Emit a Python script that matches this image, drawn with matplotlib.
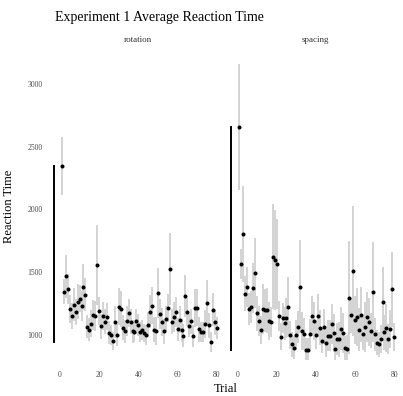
import matplotlib
matplotlib.use("Agg")
import matplotlib.pyplot as plt

plt.rcParams['font.family'] = ['Liberation Serif', 'DejaVu Serif']

trials = list(range(1, 81))

rotation_rt = [
    2345, 1343, 1468, 1369, 1207, 1151, 1241, 1183, 1263, 1289,
    1231, 1382, 1321, 1066, 1042, 1090, 1157, 1150, 1558, 1191,
    1069, 1153, 1106, 1146, 1018, 1003, 952, 1104, 998, 1226,
    1207, 1056, 1029, 1111, 1175, 1106, 1029, 1026, 1109, 1080,
    1026, 1042, 1016, 1000, 1080, 1186, 1234, 1042, 1032, 1337,
    1170, 1101, 1029, 1128, 1215, 1526, 1106, 1141, 1186, 1045,
    1122, 1037, 995, 1311, 1183, 1074, 1109, 992, 1215, 1218,
    1045, 1021, 1021, 1088, 1255, 1077, 942, 1202, 1101, 1056,
]
rotation_err = [
    230, 100, 170, 120, 110, 100, 130, 100, 140, 110,
    120, 180, 130, 90, 90, 110, 120, 120, 320, 110,
    100, 110, 100, 110, 90, 80, 70, 130, 90, 150,
    140, 100, 90, 120, 110, 100, 90, 80, 100, 90,
    80, 80, 70, 80, 100, 130, 150, 100, 110, 200,
    120, 110, 100, 100, 110, 290, 100, 120, 120, 90,
    110, 90, 90, 170, 110, 90, 100, 90, 150, 150,
    100, 80, 80, 110, 180, 100, 80, 130, 100, 90,
]

spacing_rt = [
    2657, 1563, 1805, 1327, 1385, 1207, 1223, 1375, 1496, 1173,
    1109, 1040, 1205, 1197, 1197, 1112, 1104, 1624, 1598, 1568,
    1149, 986, 1138, 1093, 1135, 1221, 1000, 926, 899, 998,
    1064, 1385, 1029, 1008, 883, 883, 1010, 1154, 1112, 998,
    1154, 1056, 952, 1066, 934, 995, 995, 1090, 1016, 888,
    966, 966, 1050, 1013, 894, 891, 1297, 1157, 1510, 1117,
    1143, 1042, 1162, 1010, 1061, 1146, 1101, 1032, 1340, 1005,
    936, 926, 968, 1261, 1021, 1053, 970, 1048, 1364, 984,
]
spacing_err = [
    500, 120, 380, 140, 160, 130, 130, 200, 280, 140,
    120, 110, 200, 170, 180, 150, 120, 420, 400, 360,
    120, 110, 120, 130, 160, 240, 110, 100, 90, 120,
    130, 370, 150, 130, 90, 90, 120, 160, 150, 110,
    170, 140, 100, 140, 110, 120, 120, 160, 150, 100,
    130, 140, 170, 160, 100, 110, 450, 140, 520, 190,
    230, 170, 220, 130, 200, 200, 190, 140, 400, 130,
    100, 100, 110, 280, 140, 190, 120, 150, 300, 110,
]

panels = ["rotation", "spacing"]
x_ticks = [0, 20, 40, 60, 80]
y_ticks = [1000, 1500, 2000, 2500, 3000]

fig = plt.figure(figsize=(4.03, 3.96), dpi=100)
ax1 = fig.add_axes([53.5 / 403, 0.0909, 168 / 403, 0.776])
ax2 = fig.add_axes([231 / 403, 0.0909, 168 / 403, 0.776], sharey=ax1)

for ax, name, rt, err in [(ax1, panels[0], rotation_rt, rotation_err),
                          (ax2, panels[1], spacing_rt, spacing_err)]:
    ax.errorbar(trials, rt, yerr=err, fmt='none', ecolor='#d0d0d0',
                elinewidth=1.3, capsize=0, zorder=1)
    ax.plot(trials, rt, 'o', color='black', markersize=2.9,
            markeredgewidth=0, zorder=2)
    ax.set_xlim(-3.3, 82.4)
    ax.set_ylim(800, 3250)
    for side in ['top', 'right', 'bottom']:
        ax.spines[side].set_visible(False)
    ax.spines['left'].set_bounds(min(rt), max(rt))
    ax.spines['left'].set_linewidth(1.4)
    ax.set_xticks(x_ticks)
    ax.tick_params(length=0, labelsize=5.5, labelcolor='#4d4d4d', pad=8)
    ax.set_title(name, fontsize=6.5, color='#333333', pad=8)

ax1.set_yticks(y_ticks)
ax2.tick_params(labelleft=False)
ax1.set_ylabel("Reaction Time", fontsize=9, labelpad=9)
fig.text(226 / 403, 1 - 389 / 396, "Trial", fontsize=9, ha='center', va='center')
fig.text(55 / 403, 1 - 18 / 396, "Experiment 1 Average Reaction Time",
         fontsize=10, ha='left', va='center')

fig.savefig("out.png", dpi=100)
